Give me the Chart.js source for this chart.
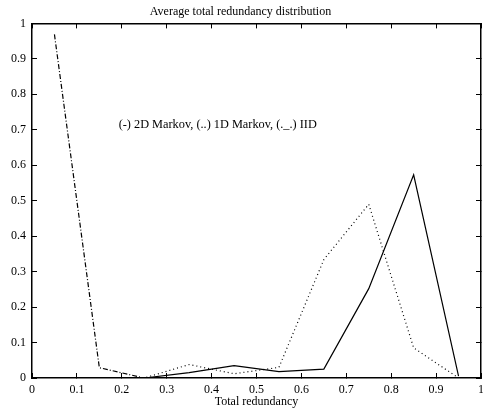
<!DOCTYPE html>
<html>
<head>
<meta charset="utf-8">
<script src="https://cdn.jsdelivr.net/npm/chart.js@4"></script>
<style>
  body { margin: 0; background: #fff; }
  canvas { display: block; }
</style>
</head>
<body>
<canvas id="chart" width="483" height="410"></canvas>
<script>
const redundancy = [0.05, 0.15, 0.25, 0.35, 0.45, 0.55, 0.65, 0.75, 0.85, 0.95];
const markov2D = [0, 0, 0, 0.015, 0.035, 0.018, 0.025, 0.252, 0.573, 0.005];
const markov1D = [0, 0, 0, 0.038, 0.012, 0.03, 0.334, 0.49, 0.085, 0];
const iid = [0.969, 0.029, 0, 0, 0, 0, 0, 0, 0, 0];
const tickValues = [0, 0.1, 0.2, 0.3, 0.4, 0.5, 0.6, 0.7, 0.8, 0.9, 1];

const serif = "'Liberation Serif', 'DejaVu Serif', serif";

const toPoints = ys => redundancy.map((x, i) => ({ x: x, y: ys[i] }));
const setTicks = s => { s.ticks = tickValues.map(v => ({ value: v })); };
const fmt = v => String(+v.toFixed(1));

// inward tick marks, frame edge drawn by the axis border
const frameGrid = { display: true, drawOnChartArea: false, drawTicks: true, tickLength: -5, color: "#000", lineWidth: 1 };
const frameBorder = { display: true, color: "#000", width: 1.5 };

// the in-plot note
const notePlugin = {
  id: "note",
  afterDraw(chart) {
    const ctx = chart.ctx;
    const xs = chart.scales.x;
    const ys = chart.scales.y;
    ctx.save();
    ctx.fillStyle = "#000";
    ctx.font = "12.3px " + serif;
    ctx.textBaseline = "middle";
    ctx.textAlign = "left";
    ctx.fillText("(-) 2D Markov, (..) 1D Markov, (._.) IID",
      xs.getPixelForValue(0.193), ys.getPixelForValue(0.715));
    ctx.restore();
  }
};

new Chart(document.getElementById("chart"), {
  type: "line",
  data: {
    datasets: [
      {
        label: "2D Markov",
        data: toPoints(markov2D),
        borderColor: "#000",
        borderWidth: 1.2,
        pointRadius: 0,
        tension: 0
      },
      {
        label: "1D Markov",
        data: toPoints(markov1D),
        borderColor: "#000",
        borderWidth: 1.2,
        borderDash: [1, 3],
        pointRadius: 0,
        tension: 0
      },
      {
        label: "IID",
        data: toPoints(iid),
        borderColor: "#000",
        borderWidth: 1.2,
        borderDash: [5, 2, 1, 2],
        pointRadius: 0,
        tension: 0
      }
    ]
  },
  plugins: [notePlugin],
  options: {
    responsive: false,
    animation: false,
    layout: { padding: { left: 0, right: 2, top: 0, bottom: 0 } },
    plugins: {
      legend: { display: false },
      tooltip: { enabled: false },
      title: {
        display: true,
        text: "Average total redundancy distribution",
        color: "#000",
        font: { family: serif, size: 12, weight: "normal" },
        padding: { top: 5, bottom: 4 }
      }
    },
    scales: {
      x: {
        type: "linear",
        position: "bottom",
        min: 0,
        max: 1,
        grid: frameGrid,
        border: frameBorder,
        afterBuildTicks: setTicks,
        afterFit: s => { s.height = 32; s.paddingLeft = 0; s.paddingRight = 0; },
        ticks: {
          color: "#000",
          font: { family: serif, size: 12 },
          padding: 10,
          maxRotation: 0,
          callback: fmt
        },
        title: {
          display: true,
          text: "Total redundancy",
          color: "#000",
          font: { family: serif, size: 12 },
          padding: { top: 0, bottom: 1 }
        }
      },
      x2: {
        type: "linear",
        display: true,
        position: "top",
        min: 0,
        max: 1,
        grid: frameGrid,
        border: frameBorder,
        afterBuildTicks: setTicks,
        afterFit: s => { s.height = 0; s.paddingLeft = 0; s.paddingRight = 0; },
        ticks: { display: false }
      },
      y: {
        type: "linear",
        position: "left",
        min: 0,
        max: 1,
        grid: frameGrid,
        border: frameBorder,
        afterBuildTicks: setTicks,
        afterFit: s => { s.width = 32; },
        ticks: {
          color: "#000",
          font: { family: serif, size: 12 },
          padding: 11,
          callback: fmt
        }
      },
      y2: {
        type: "linear",
        display: true,
        position: "right",
        min: 0,
        max: 1,
        grid: frameGrid,
        border: frameBorder,
        afterBuildTicks: setTicks,
        afterFit: s => { s.width = 0; },
        ticks: { display: false }
      }
    }
  }
});
</script>
</body>
</html>
